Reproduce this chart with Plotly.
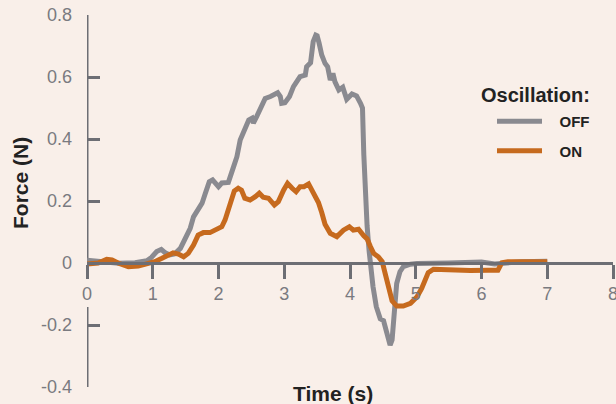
import plotly.graph_objects as go

# ---- data ----
t_off = [0, 0.22, 0.48, 0.73, 0.91, 0.98, 1.06, 1.13, 1.19, 1.26, 1.33, 1.42, 1.49, 1.57,
         1.62, 1.69, 1.75, 1.80, 1.86, 1.91, 2.00, 2.05, 2.15, 2.23, 2.28, 2.33, 2.38,
         2.46, 2.51, 2.53, 2.58, 2.63, 2.71, 2.79, 2.90, 2.94, 2.96, 3.01, 3.08, 3.14,
         3.24, 3.32, 3.34, 3.40, 3.43, 3.44, 3.48, 3.50, 3.53, 3.57, 3.62, 3.66, 3.70,
         3.74, 3.77, 3.83, 3.89, 3.95, 4.03, 4.10, 4.16, 4.19, 4.21, 4.23, 4.26, 4.29,
         4.32, 4.35, 4.40, 4.46, 4.51, 4.55, 4.59, 4.61, 4.64, 4.66, 4.69, 4.71, 4.76,
         4.81, 4.92, 5.02, 5.5, 6.0, 6.2, 6.6, 7.0]
f_off = [0.009, 0.004, -0.001, 0.001, 0.007, 0.018, 0.037, 0.044, 0.033, 0.026, 0.029, 0.047, 0.074, 0.112,
         0.149, 0.176, 0.193, 0.225, 0.262, 0.268, 0.246, 0.258, 0.260, 0.311, 0.343, 0.397, 0.419,
         0.461, 0.467, 0.451, 0.472, 0.494, 0.531, 0.537, 0.549, 0.537, 0.515, 0.517, 0.537, 0.569,
         0.601, 0.606, 0.633, 0.646, 0.682, 0.714, 0.735, 0.733, 0.709, 0.671, 0.644, 0.633, 0.590,
         0.612, 0.585, 0.558, 0.567, 0.528, 0.545, 0.539, 0.515, 0.500, 0.350, 0.210, 0.120, 0.040,
         -0.023, -0.076, -0.141, -0.180, -0.186, -0.216, -0.254, -0.265, -0.248, -0.184, -0.109, -0.066, -0.028,
         -0.012, -0.004, -0.002, 0.000, 0.003, -0.003, 0.004, 0.006]

t_on = [0, 0.17, 0.30, 0.38, 0.48, 0.63, 0.78, 0.93, 1.03, 1.14, 1.24, 1.31, 1.39, 1.47,
        1.54, 1.62, 1.69, 1.77, 1.87, 1.95, 2.05, 2.10, 2.18, 2.24, 2.30, 2.35, 2.40,
        2.48, 2.56, 2.62, 2.68, 2.76, 2.85, 2.91, 2.99, 3.05, 3.12, 3.18, 3.24, 3.30,
        3.37, 3.42, 3.47, 3.52, 3.57, 3.62, 3.70, 3.80, 3.90, 3.99, 4.05, 4.13, 4.21,
        4.26, 4.31, 4.36, 4.43, 4.49, 4.54, 4.59, 4.64, 4.71, 4.81, 4.92, 5.02, 5.09,
        5.14, 5.19, 5.27, 5.52, 5.83, 6.10, 6.25, 6.31, 6.40, 6.70, 7.00]
f_on = [-0.003, 0.000, 0.012, 0.010, -0.001, -0.012, -0.010, -0.003, 0.004, 0.015, 0.026, 0.033, 0.029, 0.020,
        0.031, 0.058, 0.090, 0.098, 0.098, 0.106, 0.117, 0.139, 0.190, 0.232, 0.241, 0.235, 0.209,
        0.203, 0.214, 0.225, 0.212, 0.209, 0.187, 0.198, 0.235, 0.257, 0.241, 0.230, 0.246, 0.246,
        0.255, 0.235, 0.214, 0.195, 0.163, 0.125, 0.096, 0.085, 0.106, 0.117, 0.106, 0.109, 0.088,
        0.078, 0.053, 0.031, 0.020, 0.004, -0.038, -0.090, -0.122, -0.139, -0.139, -0.130, -0.109, -0.082,
        -0.055, -0.031, -0.020, -0.023, -0.024, -0.023, -0.023, 0.001, 0.004, 0.004, 0.004]

x_ticks = [0, 1, 2, 3, 4, 5, 6, 7, 8]
y_ticks = [-0.4, -0.2, 0, 0.2, 0.4, 0.6, 0.8]
y_ticklabels = ["-0.4", "-0.2", "0", "0.2", "0.4", "0.6", "0.8"]
series_names = ["OFF", "ON"]
legend_title = "Oscillation:"

# ---- styling ----
BG = "#f9efe9"
AXIS = "#6d6e74"
TICKTXT = "#7a7a80"
GRAY = "#8a8a90"
ORANGE = "#c66a1e"
DARK = "#222222"
FONT = "Liberation Sans, Arial, sans-serif"

L, R, T, B = 87, 3, 15, 17
W, H = 616, 404
PW, PH = W - L - R, H - T - B


def px_to_paper_x(px):
    return (px - L) / PW


def px_to_paper_y(py):
    return (H - B - py) / PH


NB = "\u00a0" * 3

fig = go.Figure()
fig.add_trace(go.Scatter(x=t_off, y=f_off, mode="lines", name=NB + "<b>" + series_names[0] + "</b>",
                         legendgroup="off", line=dict(color=GRAY, width=5)))
fig.add_trace(go.Scatter(x=t_on, y=f_on, mode="lines", name=NB + "<b>" + series_names[1] + "</b>",
                         legendgroup="on", line=dict(color=ORANGE, width=5)))

yr = [-0.4, 0.8]
fig.update_layout(
    width=W, height=H,
    margin=dict(l=L, r=R, t=T, b=B, autoexpand=False),
    paper_bgcolor=BG, plot_bgcolor=BG,
    font=dict(family=FONT, color=TICKTXT),
    xaxis=dict(range=[0, 8], tickvals=x_ticks, showgrid=False, zeroline=False,
               showline=True, linecolor=AXIS, linewidth=2.5, automargin=False,
               ticks="outside", ticklen=14, tickwidth=2.5, tickcolor=AXIS,
               ticklabeloverflow="allow",
               tickfont=dict(size=18, color=TICKTXT),
               anchor="free", position=(0 - yr[0]) / (yr[1] - yr[0])),
    yaxis=dict(range=yr, tickvals=y_ticks, ticktext=y_ticklabels, showgrid=False,
               zeroline=False, showline=False, automargin=False,
               ticks="inside", ticklen=13, tickwidth=2.5, tickcolor=AXIS,
               ticklabelstandoff=14,
               tickfont=dict(size=18, color=TICKTXT)),
    legend=dict(font=dict(size=15, color=DARK, family=FONT),
                x=px_to_paper_x(492), xanchor="left",
                y=px_to_paper_y(105), yanchor="top",
                bgcolor="rgba(0,0,0,0)", itemwidth=45, tracegroupgap=7),
    showlegend=True,
)

# y-axis line broken around the x tick labels
fig.add_shape(type="line", xref="x", yref="y", x0=0, x1=0, y0=yr[1], y1=-0.048,
              line=dict(color=AXIS, width=3), layer="below")
fig.add_shape(type="line", xref="x", yref="y", x0=0, x1=0, y0=-0.142, y1=yr[0],
              line=dict(color=AXIS, width=3), layer="below")

fig.add_annotation(text="<b>" + legend_title + "</b>", xref="paper", yref="paper",
                   x=px_to_paper_x(479), y=px_to_paper_y(95), xanchor="left", yanchor="middle",
                   showarrow=False, font=dict(size=20, color=DARK, family=FONT))
fig.add_annotation(text="<b>Force (N)</b>", xref="paper", yref="paper",
                   x=px_to_paper_x(20), y=px_to_paper_y(183), xanchor="center", yanchor="middle",
                   textangle=-90, showarrow=False,
                   font=dict(size=21, color=DARK, family=FONT))
fig.add_annotation(text="<b>Time (s)</b>", xref="paper", yref="paper",
                   x=px_to_paper_x(333), y=px_to_paper_y(393), xanchor="center", yanchor="middle",
                   showarrow=False, font=dict(size=21, color=DARK, family=FONT))

# remove the page's default body margin so the figure sits at the window's top-left
fig.write_html("out.html", config={"displayModeBar": False},
               post_script="document.body.style.margin='0px';")
